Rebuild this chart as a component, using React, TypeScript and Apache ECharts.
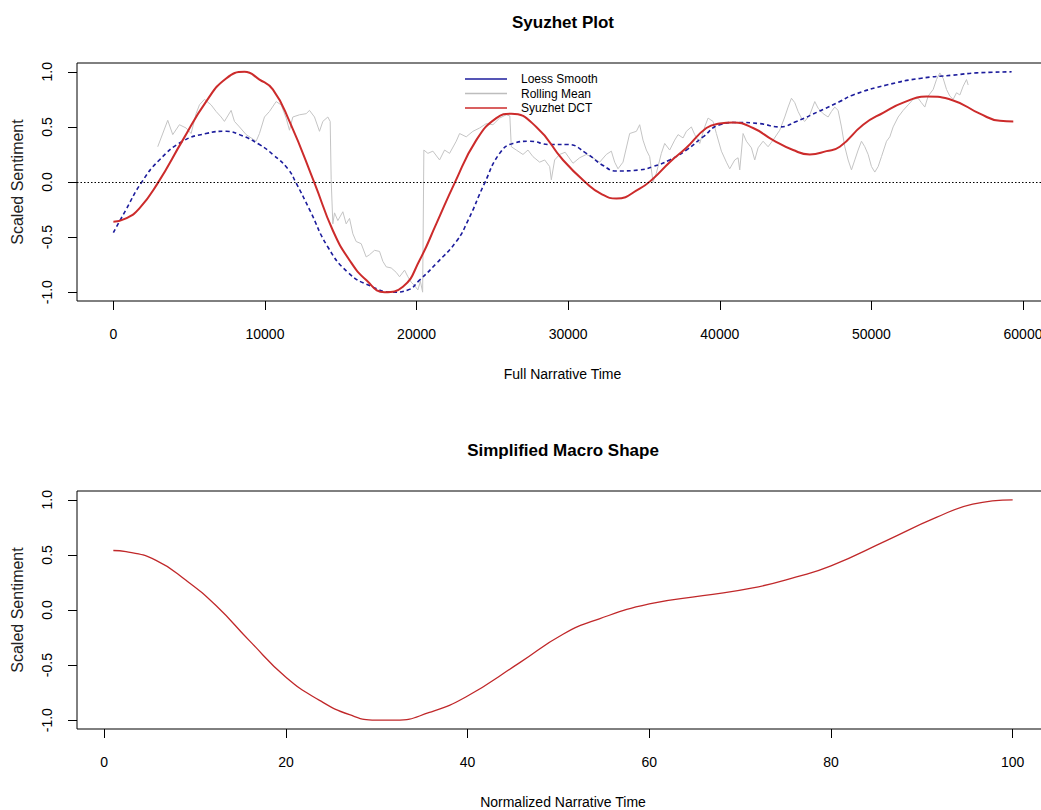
import React, { useEffect, useRef } from "react";
import * as echarts from "echarts";

// ---- Top panel: Syuzhet Plot ----
const dctX = [0, 835, 1716, 2926, 4576, 6117, 7437, 8647, 9637, 10516, 11617, 13267, 14477, 15578, 16678, 17888, 19098, 20198, 21298, 22508, 23938, 25258, 26248, 27898, 29657, 31197, 32200, 33178, 34716, 35596, 36696, 37796, 39116, 39996, 40876, 42196, 43516, 44836, 45936, 47036, 47916, 49456, 50800, 52096, 53640, 55396, 57156, 58480, 59360];
const dctY = [-0.36, -0.33, -0.24, -0.01, 0.38, 0.73, 0.94, 1.0, 0.93, 0.84, 0.55, -0.01, -0.44, -0.71, -0.89, -1.0, -0.95, -0.71, -0.38, -0.01, 0.38, 0.58, 0.62, 0.5, 0.2, -0.01, -0.11, -0.15, -0.06, 0.03, 0.18, 0.31, 0.49, 0.53, 0.54, 0.49, 0.38, 0.29, 0.25, 0.28, 0.32, 0.52, 0.63, 0.72, 0.775, 0.74, 0.62, 0.555, 0.55];

const loessX = [0, 835, 1826, 3036, 4576, 6117, 7437, 8317, 9637, 10516, 11507, 12057, 12937, 14147, 15467, 16898, 18438, 19428, 20198, 21298, 22618, 23388, 24488, 25478, 26358, 27458, 28778, 29988, 31197, 32297, 33178, 34719, 35596, 36696, 37796, 38896, 39996, 41096, 42636, 43956, 45056, 46596, 47916, 48796, 50996, 53196, 55396, 56936, 59250];
const loessY = [-0.46, -0.25, -0.01, 0.2, 0.37, 0.44, 0.46, 0.43, 0.34, 0.25, 0.12, -0.01, -0.25, -0.59, -0.82, -0.94, -1.0, -0.98, -0.89, -0.74, -0.54, -0.35, -0.01, 0.26, 0.35, 0.37, 0.34, 0.34, 0.26, 0.15, 0.1, 0.11, 0.14, 0.2, 0.29, 0.41, 0.52, 0.54, 0.53, 0.5, 0.55, 0.645, 0.73, 0.79, 0.88, 0.94, 0.97, 0.99, 1.0];

const rollX = [2926, 3586, 3916, 4356, 4796, 5126, 5456, 5676, 6006, 6446, 6776, 7106, 7326, 7766, 7986, 8316, 8756, 9086, 9416, 9636, 9966, 10296, 10736, 11066, 11396, 11616, 11836, 12276, 12716, 12936, 13266, 13596, 13816, 14146, 14300, 14366, 14476, 14586, 14806, 15136, 15356, 15576, 15796, 16016, 16346, 16676, 16896, 17226, 17556, 17776, 17996, 18326, 18656, 18876, 19206, 19426, 19646, 19866, 20086, 20250, 20400, 20480, 20746, 21076, 21516, 21846, 22176, 22616, 22836, 23276, 23716, 24156, 24596, 25036, 25476, 25916, 26150, 26248, 26578, 27018, 27348, 27678, 28118, 28448, 28778, 28888, 29106, 29436, 29800, 30316, 30756, 31196, 31636, 32076, 32516, 32846, 33066, 33286, 33616, 34056, 34500, 34716, 34936, 35156, 35376, 35596, 35816, 36146, 36366, 36696, 37026, 37246, 37576, 37796, 38126, 38346, 38676, 39006, 39226, 39556, 39776, 40106, 40436, 40656, 40986, 41206, 41316, 41536, 41756, 42086, 42306, 42526, 42856, 43186, 43516, 43956, 44286, 44506, 44726, 44946, 45166, 45386, 45606, 45936, 46266, 46486, 46816, 47146, 47366, 47586, 47806, 48026, 48246, 48466, 48686, 48906, 49126, 49346, 49566, 49786, 50006, 50226, 50446, 50666, 51000, 51216, 51436, 51766, 52096, 52426, 52756, 53086, 53300, 53526, 53746, 54076, 54296, 54516, 54736, 54956, 55176, 55396, 55616, 55836, 56056, 56276, 56386];
const rollY = [0.32, 0.56, 0.43, 0.52, 0.49, 0.44, 0.62, 0.7, 0.75, 0.7, 0.64, 0.59, 0.55, 0.65, 0.55, 0.5, 0.43, 0.4, 0.37, 0.44, 0.59, 0.64, 0.73, 0.7, 0.58, 0.47, 0.59, 0.61, 0.62, 0.65, 0.59, 0.46, 0.55, 0.59, 0.55, 0.02, -0.38, -0.28, -0.35, -0.27, -0.38, -0.33, -0.47, -0.54, -0.56, -0.68, -0.66, -0.62, -0.63, -0.72, -0.77, -0.78, -0.82, -0.86, -0.8, -0.86, -0.91, -0.94, -0.98, -0.9, -1.0, 0.29, 0.26, 0.28, 0.2, 0.29, 0.26, 0.37, 0.44, 0.41, 0.46, 0.49, 0.53, 0.52, 0.58, 0.61, 0.6, 0.32, 0.29, 0.25, 0.29, 0.23, 0.18, 0.2, 0.14, 0.02, 0.2, 0.25, 0.27, 0.17, 0.22, 0.25, 0.22, 0.18, 0.25, 0.28, 0.18, 0.12, 0.18, 0.44, 0.46, 0.52, 0.38, 0.29, 0.23, 0.0, 0.08, 0.26, 0.35, 0.29, 0.38, 0.43, 0.4, 0.46, 0.5, 0.43, 0.35, 0.5, 0.58, 0.55, 0.44, 0.28, 0.18, 0.12, 0.2, 0.22, 0.11, 0.44, 0.37, 0.31, 0.2, 0.31, 0.37, 0.32, 0.38, 0.47, 0.59, 0.68, 0.76, 0.72, 0.64, 0.58, 0.55, 0.61, 0.73, 0.67, 0.62, 0.59, 0.64, 0.68, 0.65, 0.5, 0.32, 0.2, 0.11, 0.2, 0.29, 0.37, 0.32, 0.25, 0.14, 0.09, 0.14, 0.23, 0.37, 0.41, 0.5, 0.59, 0.65, 0.7, 0.75, 0.76, 0.72, 0.68, 0.78, 0.84, 0.93, 0.99, 0.94, 0.84, 0.78, 0.75, 0.81, 0.79, 0.87, 0.93, 0.88];

const topXTicks = [0, 10000, 20000, 30000, 40000, 50000, 60000];
const yTicks = [-1, -0.5, 0, 0.5, 1];

// ---- Bottom panel: Simplified Macro Shape ----
const macroX = [1, 2.4, 5.7, 9.0, 12.3, 16.0, 20.0, 23.7, 27.0, 29.9, 32.1, 35.8, 39.8, 45.7, 50.5, 54.5, 60.0, 65.9, 71.4, 76.2, 80.0, 86.1, 91.6, 95.6, 100];
const macroY = [0.54, 0.53, 0.45, 0.27, 0.04, -0.28, -0.61, -0.82, -0.95, -1.0, -1.0, -0.93, -0.79, -0.48, -0.22, -0.08, 0.055, 0.13, 0.2, 0.3, 0.4, 0.63, 0.84, 0.96, 1.0];
const bottomXTicks = [0, 20, 40, 60, 80, 100];

const zip = (xs: number[], ys: number[]) => xs.map((x, i) => [x, ys[i]]);

const FONT = "'Liberation Sans', Arial, Helvetica, sans-serif";

export default function App() {
  const ref = useRef<HTMLDivElement>(null);
  useEffect(() => {
    if (!ref.current) return;
    const chart = echarts.init(ref.current, undefined, { renderer: "svg" });
    const xAxisBase = (min: number, max: number, ticks: number[], name: string, gridIndex: number) => ({
      type: "value",
      gridIndex,
      min,
      max,
      name,
      nameLocation: "middle",
      nameGap: 66,
      nameTextStyle: { fontSize: 14, color: "#000", fontFamily: FONT },
      axisLine: { show: false, onZero: false },
      axisTick: { show: true, length: 9, customValues: ticks, lineStyle: { color: "#000", width: 1 } },
      axisLabel: { customValues: ticks, fontSize: 14, color: "#000", fontFamily: FONT, margin: 26, formatter: (v: number) => String(v) },
      splitLine: { show: false },
    });
    const yAxisBase = (gridIndex: number) => ({
      type: "value",
      gridIndex,
      min: -1.08,
      max: 1.08,
      name: "Scaled Sentiment",
      nameLocation: "middle",
      nameGap: 52,
      nameTextStyle: { fontSize: 16, color: "#222", fontFamily: FONT },
      axisLine: { show: false, onZero: false },
      axisTick: { show: true, length: 9, customValues: yTicks, lineStyle: { color: "#000", width: 1 } },
      axisLabel: {
        customValues: yTicks,
        rotate: 90,
        fontSize: 14,
        color: "#000",
        fontFamily: FONT,
        margin: 23,
        formatter: (v: number) => v.toFixed(1),
      },
      splitLine: { show: false },
    });
    chart.setOption({
      animation: false,
      backgroundColor: "#fff",
      textStyle: { fontFamily: FONT },
      graphic: [
        { type: "text", x: 563, y: 22, style: { text: "Syuzhet Plot", font: "bold 17px " + FONT, fill: "#000", textAlign: "center", textVerticalAlign: "middle" } },
        { type: "text", x: 563, y: 450, style: { text: "Simplified Macro Shape", font: "bold 17px " + FONT, fill: "#000", textAlign: "center", textVerticalAlign: "middle" } },
      ],
      legend: {
        data: ["Loess Smooth", "Rolling Mean", "Syuzhet DCT"],
        orient: "vertical",
        left: 460,
        top: 68,
        icon: "rect",
        itemWidth: 42,
        itemHeight: 1.5,
        itemGap: 2.5,
        selectedMode: false,
        textStyle: { fontSize: 12, lineHeight: 12, color: "#000", fontFamily: FONT, padding: [0, 0, 0, 9] },
      },
      grid: [
        { left: 77, top: 63, width: 971, height: 238, show: true, borderColor: "#000", borderWidth: 1, backgroundColor: "transparent", containLabel: false, outerBoundsMode: "none" },
        { left: 77, top: 491, width: 972, height: 238, show: true, borderColor: "#000", borderWidth: 1, backgroundColor: "transparent", containLabel: false, outerBoundsMode: "none" },
      ],
      xAxis: [
        xAxisBase(-2400, 61650, topXTicks, "Full Narrative Time", 0),
        xAxisBase(-3.0, 104.0, bottomXTicks, "Normalized Narrative Time", 1),
      ],
      yAxis: [yAxisBase(0), yAxisBase(1)],
      series: [
        {
          name: "Rolling Mean",
          type: "line",
          xAxisIndex: 0,
          yAxisIndex: 0,
          data: zip(rollX, rollY),
          showSymbol: false,
          lineStyle: { color: "#c4c4c4", width: 1 },
          itemStyle: { color: "#bdbdbd" },
          z: 2,
        },
        {
          name: "Loess Smooth",
          type: "line",
          xAxisIndex: 0,
          yAxisIndex: 0,
          data: zip(loessX, loessY),
          showSymbol: false,
          smooth: 0.5,
          lineStyle: { color: "#1c1c9c", width: 1.6, type: [4, 3] },
          itemStyle: { color: "#1c1c9c" },
          z: 3,
          markLine: {
            silent: true,
            symbol: "none",
            label: { show: false },
            lineStyle: { color: "#000", type: [1.5, 2], width: 1.2 },
            data: [{ yAxis: 0 }],
          },
        },
        {
          name: "Syuzhet DCT",
          type: "line",
          xAxisIndex: 0,
          yAxisIndex: 0,
          data: zip(dctX, dctY),
          showSymbol: false,
          smooth: 0.5,
          lineStyle: { color: "#cc2b2b", width: 2 },
          itemStyle: { color: "#cc2b2b" },
          z: 4,
        },
        {
          name: "Macro Shape",
          type: "line",
          xAxisIndex: 1,
          yAxisIndex: 1,
          data: zip(macroX, macroY),
          showSymbol: false,
          smooth: 0.5,
          lineStyle: { color: "#c0282a", width: 1.3 },
          itemStyle: { color: "#c0282a" },
        },
      ],
    });
    return () => chart.dispose();
  }, []);
  return <div ref={ref} style={{ position: "absolute", left: 0, top: 0, width: 1041, height: 810 }} />;
}
